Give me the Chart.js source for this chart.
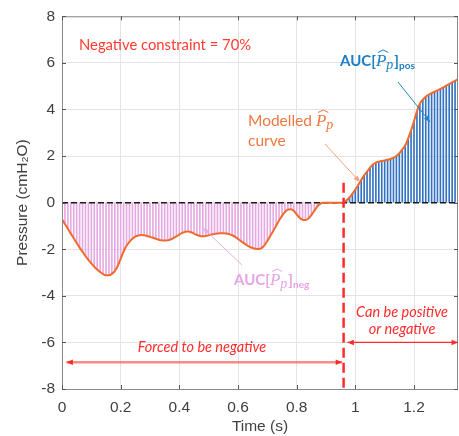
<!DOCTYPE html>
<html>
<head>
<meta charset="utf-8">
<script src="https://cdn.jsdelivr.net/npm/chart.js@4/dist/chart.umd.min.js"></script>
<style>
  body { margin: 0; background: #fff; }
  canvas { display: block; }
</style>
</head>
<body>
<canvas id="pressureChart" width="459" height="436"></canvas>
<script>
// Sample times (s) and modelled pressure (cmH2O)
const TIME = [
  0.00, 0.01, 0.02, 0.03, 0.04, 0.05, 0.06, 0.07, 0.08, 0.09,
  0.10, 0.11, 0.12, 0.13, 0.14, 0.15, 0.16, 0.17, 0.18, 0.19,
  0.20, 0.21, 0.22, 0.23, 0.24, 0.25, 0.26, 0.27, 0.28, 0.29,
  0.30, 0.31, 0.32, 0.33, 0.34, 0.35, 0.36, 0.37, 0.38, 0.39,
  0.40, 0.41, 0.42, 0.43, 0.44, 0.45, 0.46, 0.47, 0.48, 0.49,
  0.50, 0.51, 0.52, 0.53, 0.54, 0.55, 0.56, 0.57, 0.58, 0.59,
  0.60, 0.61, 0.62, 0.63, 0.64, 0.65, 0.66, 0.67, 0.68, 0.69,
  0.70, 0.71, 0.72, 0.73, 0.74, 0.75, 0.76, 0.77, 0.78, 0.79,
  0.80, 0.81, 0.82, 0.83, 0.84, 0.85, 0.86, 0.87, 0.88, 0.89,
  0.90, 0.91, 0.92, 0.93, 0.94, 0.95, 0.96, 0.97, 0.98, 0.99,
  1.00, 1.01, 1.02, 1.03, 1.04, 1.05, 1.06, 1.07, 1.08, 1.09,
  1.10, 1.11, 1.12, 1.13, 1.14, 1.15, 1.16, 1.17, 1.18, 1.19,
  1.20, 1.21, 1.22, 1.23, 1.24, 1.25, 1.26, 1.27, 1.28, 1.29,
  1.30, 1.31, 1.32, 1.33, 1.34, 1.35,
];
const PRESSURE = [
  -0.71, -0.92, -1.12, -1.33, -1.53, -1.73, -1.93, -2.11, -2.29, -2.46,
  -2.61, -2.75, -2.87, -2.98, -3.07, -3.12, -3.12, -3.06, -2.94, -2.72,
  -2.40, -2.10, -1.85, -1.68, -1.55, -1.46, -1.41, -1.39, -1.40, -1.43,
  -1.47, -1.51, -1.55, -1.59, -1.62, -1.63, -1.62, -1.58, -1.52, -1.45,
  -1.37, -1.30, -1.25, -1.24, -1.27, -1.33, -1.39, -1.43, -1.44, -1.43,
  -1.40, -1.37, -1.34, -1.32, -1.31, -1.31, -1.32, -1.35, -1.40, -1.47,
  -1.56, -1.65, -1.74, -1.83, -1.90, -1.95, -1.98, -1.99, -1.95, -1.83,
  -1.65, -1.43, -1.22, -0.99, -0.77, -0.57, -0.40, -0.30, -0.28, -0.35,
  -0.50, -0.65, -0.73, -0.74, -0.68, -0.54, -0.35, -0.17, -0.05, 0.00,
  0.00, 0.00, 0.00, 0.00, 0.00, 0.00, 0.00, 0.10, 0.22, 0.38,
  0.56, 0.76, 0.97, 1.17, 1.33, 1.50, 1.64, 1.72, 1.76, 1.79,
  1.81, 1.84, 1.88, 1.92, 2.00, 2.12, 2.28, 2.45, 2.75, 3.10,
  3.50, 3.92, 4.25, 4.42, 4.55, 4.63, 4.70, 4.76, 4.82, 4.88,
  4.95, 5.02, 5.09, 5.16, 5.23, 5.30,
];

const X_RANGE = [0, 1.35];
const Y_RANGE = [-8, 8];
const X_TICKS = [0, 0.2, 0.4, 0.6, 0.8, 1, 1.2];
const Y_TICKS = [-8, -6, -4, -2, 0, 2, 4, 6, 8];

// Split between the forced-negative part and the free part
const SPLIT_TIME = 0.96;
const SPLIT_LINE_Y = [0.85, -8];

const NEG_COLOR = "#e6aae3";
const POS_COLOR = "#3473c4";
const CURVE_COLOR = "#f06a2c";
const RED = "#ff2b2b";
const AXIS_TEXT = "#404040";

const points = TIME.map((t, i) => ({ x: t, y: PRESSURE[i] }));

function drawArrow(ctx, x1, y1, x2, y2, opts) {
  const { color, headColor, width, start, end, head } = opts;
  ctx.save();
  ctx.strokeStyle = color;
  ctx.lineWidth = width;
  ctx.beginPath();
  ctx.moveTo(x1, y1);
  ctx.lineTo(x2, y2);
  ctx.stroke();
  const ang = Math.atan2(y2 - y1, x2 - x1);
  const tip = (x, y, a) => {
    ctx.fillStyle = headColor || color;
    ctx.beginPath();
    ctx.moveTo(x, y);
    ctx.lineTo(x - head * Math.cos(a - 0.4), y - head * Math.sin(a - 0.4));
    ctx.lineTo(x - head * Math.cos(a + 0.4), y - head * Math.sin(a + 0.4));
    ctx.closePath();
    ctx.fill();
  };
  if (end) tip(x2, y2, ang);
  if (start) tip(x1, y1, ang + Math.PI);
  ctx.restore();
}

// Draw a run of text pieces left to right on one baseline
function drawRich(ctx, x, y, parts, color) {
  ctx.save();
  ctx.fillStyle = color;
  ctx.strokeStyle = color;
  ctx.textBaseline = "alphabetic";
  ctx.textAlign = "left";
  let cx = x;
  for (const p of parts) {
    ctx.font = p.font;
    ctx.fillText(p.t, cx, y + (p.dy || 0));
    const w = ctx.measureText(p.t).width;
    if (p.hat) {
      const top = y - 16;
      ctx.lineWidth = 1;
      ctx.beginPath();
      ctx.moveTo(cx + 2, top + 2.5);
      ctx.lineTo(cx + w / 2 + 2, top);
      ctx.lineTo(cx + w + 2, top + 2.5);
      ctx.stroke();
    }
    cx += w + (p.after || 0);
  }
  ctx.restore();
}

const annotations = {
  id: "annotations",
  afterDraw(chart) {
    const { ctx, chartArea: a, scales } = chart;
    const xs = scales.x;
    const ys = scales.y;
    const px = (v) => xs.getPixelForValue(v);
    const py = (v) => ys.getPixelForValue(v);

    // box and inward ticks
    ctx.save();
    ctx.strokeStyle = "#8a8a8a";
    ctx.lineWidth = 1;
    ctx.strokeRect(a.left + 0.5, a.top + 0.5, a.right - a.left - 1, a.bottom - a.top);
    ctx.strokeStyle = "#555";
    ctx.beginPath();
    for (const t of X_TICKS) {
      const x = Math.round(px(t)) + 0.5;
      ctx.moveTo(x, a.bottom);
      ctx.lineTo(x, a.bottom - 4);
      ctx.moveTo(x, a.top);
      ctx.lineTo(x, a.top + 4);
    }
    for (const t of Y_TICKS) {
      const y = Math.round(py(t)) + 0.5;
      ctx.moveTo(a.left, y);
      ctx.lineTo(a.left + 4, y);
      ctx.moveTo(a.right, y);
      ctx.lineTo(a.right - 4, y);
    }
    ctx.stroke();
    ctx.restore();

    // region arrows
    drawArrow(ctx, px(0.955), py(-6.85), px(0.015), py(-6.85), {
      color: "rgba(255,90,80,0.7)", headColor: RED, width: 2.5, start: true, end: true, head: 7,
    });
    drawArrow(ctx, px(0.973), py(-6.0), px(1.35), py(-6.0), {
      color: RED, width: 1.3, start: true, end: true, head: 7,
    });

    // pointer arrows
    drawArrow(ctx, 325, 144, 360, 182, { color: "#f5a080", width: 1, end: true, head: 7 });
    drawArrow(ctx, 398, 82, 430, 122, { color: "#1f86c8", width: 1, end: true, head: 7 });
    drawArrow(ctx, 242, 265, 203, 228, { color: "#e8aee6", width: 1, end: true, head: 7 });

    // texts
    ctx.save();
    ctx.textAlign = "left";
    ctx.textBaseline = "alphabetic";
    ctx.fillStyle = "#ff3b30";
    ctx.font = "14.8px Lato";
    ctx.fillText("Negative constraint = 70%", 79, 50);

    ctx.fillStyle = RED;
    ctx.font = "italic 14.5px Lato";
    ctx.textAlign = "center";
    ctx.fillText("Forced to be negative", 202, 352);
    ctx.fillText("Can be positive", 402, 317);
    ctx.fillText("or negative", 402, 334);

    ctx.fillStyle = "#f07840";
    ctx.font = "15.5px Lato";
    ctx.textAlign = "left";
    ctx.fillText("curve", 248, 146);
    ctx.restore();

    const serif = "italic 17px 'Liberation Serif'";
    drawRich(ctx, 248, 126, [
      { t: "Modelled ", font: "15.5px Lato" },
      { t: "P", font: serif, hat: true },
      { t: "p", font: "italic 14px 'Liberation Serif'", dy: 3 },
    ], "#f07840");

    drawRich(ctx, 340, 66, [
      { t: "AUC[", font: "bold 15px Lato" },
      { t: "P", font: serif, hat: true },
      { t: "p", font: "italic 14px 'Liberation Serif'", dy: 3, after: 1 },
      { t: "]", font: "bold 15px Lato" },
      { t: "pos", font: "bold 10px Lato", dy: 3 },
    ], "#1a7fc3");

    drawRich(ctx, 234, 285, [
      { t: "AUC[", font: "bold 15px Lato" },
      { t: "P", font: serif, hat: true },
      { t: "p", font: "italic 14px 'Liberation Serif'", dy: 3, after: 1 },
      { t: "]", font: "bold 15px Lato" },
      { t: "neg", font: "bold 10px Lato", dy: 3 },
    ], "#e6a4e4");
  },
};

const ctx = document.getElementById("pressureChart").getContext("2d");

new Chart(ctx, {
  type: "bar",
  data: {
    datasets: [
      {
        type: "line",
        label: "Split",
        data: SPLIT_LINE_Y.map((y) => ({ x: SPLIT_TIME, y })),
        borderColor: RED,
        borderWidth: 2.5,
        borderDash: [10, 5],
        pointRadius: 0,
        order: 0,
      },
      {
        type: "line",
        label: "Modelled curve",
        data: points,
        borderColor: CURVE_COLOR,
        borderWidth: 2,
        cubicInterpolationMode: "monotone",
        pointRadius: 0,
        order: 1,
      },
      {
        type: "line",
        label: "Zero",
        data: X_RANGE.map((x) => ({ x, y: 0 })),
        borderColor: "#1a1a1a",
        borderWidth: 1.5,
        borderDash: [6, 3],
        pointRadius: 0,
        order: 2,
      },
      {
        label: "AUC",
        data: points,
        backgroundColor: (c) => (c.raw && c.raw.y < 0 ? NEG_COLOR : POS_COLOR),
        borderWidth: 0,
        barThickness: 1,
        grouped: false,
        order: 3,
      },
    ],
  },
  options: {
    responsive: false,
    devicePixelRatio: 1,
    animation: false,
    layout: { padding: { top: 14, right: 1, left: 0, bottom: 0 } },
    plugins: {
      legend: { display: false },
      tooltip: { enabled: false },
    },
    scales: {
      x: {
        type: "linear",
        offset: false,
        min: X_RANGE[0],
        max: X_RANGE[1],
        afterBuildTicks: (s) => {
          s.ticks = X_TICKS.map((v) => ({ value: v }));
        },
        afterFit: (s) => {
          s.height = 47;
        },
        grid: { color: "#e4e4e4", drawTicks: false, offset: false },
        border: { display: false },
        ticks: {
          padding: 9,
          color: AXIS_TEXT,
          font: { family: "'Liberation Sans'", size: 15.5 },
          maxRotation: 0,
          callback: (v) => String(Math.round(v * 10) / 10),
        },
        title: {
          display: true,
          text: "Time (s)",
          color: AXIS_TEXT,
          font: { family: "'Liberation Sans'", size: 15.5 },
          padding: { top: 1, bottom: 0 },
        },
      },
      y: {
        min: Y_RANGE[0],
        max: Y_RANGE[1],
        afterBuildTicks: (s) => {
          s.ticks = Y_TICKS.map((v) => ({ value: v }));
        },
        afterFit: (s) => {
          s.width = 62;
        },
        grid: { color: "#e4e4e4", drawTicks: false },
        border: { display: false },
        ticks: {
          padding: 7,
          color: AXIS_TEXT,
          font: { family: "'Liberation Sans'", size: 15.5 },
        },
        title: {
          display: true,
          text: "Pressure (cmH\u2082O)",
          color: AXIS_TEXT,
          font: { family: "'Liberation Sans'", size: 15.5 },
          padding: { top: 13, bottom: 0 },
        },
      },
    },
  },
  plugins: [annotations],
});
</script>
</body>
</html>
